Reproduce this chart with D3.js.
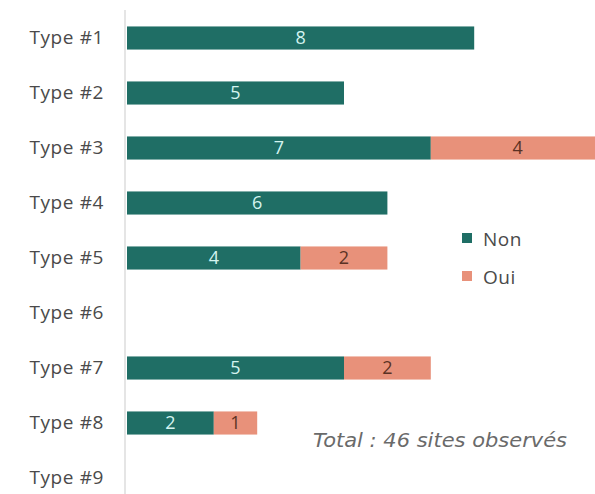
<!DOCTYPE html>
<html>
<head>
<meta charset="utf-8">
<script src="https://cdn.jsdelivr.net/npm/d3@7"></script>
<style>
  html, body { margin: 0; padding: 0; background: #fff; }
  svg { display: block; }
</style>
</head>
<body>
<svg id="chart" width="595" height="494"></svg>
<script>
// Site types and counts per answer
const categories = ["Type #1", "Type #2", "Type #3", "Type #4", "Type #5", "Type #6", "Type #7", "Type #8", "Type #9"];
const nonValues = [8, 5, 7, 6, 4, 0, 5, 2, 0];
const ouiValues = [0, 0, 4, 0, 2, 0, 2, 1, 0];
const seriesNames = ["Non", "Oui"];
const totalLabel = "Total : 46 sites observés";

const colors = { Non: "#1f6e65", Oui: "#e8917a" };
const labelColors = { Non: "#d4f4f0", Oui: "#5b3124" };
const font = "'Open Sans', sans-serif";

const svg = d3.select("#chart");
const H = 494;

const rows = categories.map((c, i) => ({ cat: c, Non: nonValues[i], Oui: ouiValues[i] }));
const stacked = d3.stack().keys(seriesNames)(rows);

const x = d3.scaleLinear().domain([0, 11]).range([127, 127 + 11 * 43.4]);
const y = d3.scaleBand().domain(categories).range([10.5, 505.5]).paddingInner(0.58).paddingOuter(0.29);

// Category axis line
svg.append("line")
  .attr("x1", 125).attr("x2", 125)
  .attr("y1", 10).attr("y2", H)
  .attr("stroke", "#dcdcdc").attr("stroke-width", 1.5);

// Category labels
const yAxis = d3.axisLeft(y).tickSize(0).tickPadding(0);
const gy = svg.append("g").attr("transform", "translate(104,0)").call(yAxis);
gy.select(".domain").remove();
gy.selectAll("text")
  .attr("font-family", font)
  .attr("font-size", 19)
  .attr("letter-spacing", 0.6)
  .attr("fill", "#4a4a4a");

// Bars
const layers = svg.append("g").selectAll("g")
  .data(stacked).join("g")
  .attr("fill", d => colors[d.key]);

layers.selectAll("rect")
  .data(d => d.map(v => ({ key: d.key, v, cat: v.data.cat })))
  .join("rect")
  .attr("x", d => x(d.v[0]))
  .attr("y", d => y(d.cat))
  .attr("width", d => x(d.v[1]) - x(d.v[0]))
  .attr("height", y.bandwidth());

// Value labels inside segments
layers.selectAll("text")
  .data(d => d.map(v => ({ key: d.key, v, cat: v.data.cat })).filter(d => d.v[1] - d.v[0] > 0))
  .join("text")
  .attr("x", d => (x(d.v[0]) + x(d.v[1])) / 2)
  .attr("y", d => y(d.cat) + y.bandwidth() / 2)
  .attr("dy", "0.36em")
  .attr("text-anchor", "middle")
  .attr("font-family", font)
  .attr("font-size", 18)
  .attr("fill", d => labelColors[d.key])
  .text(d => d.v[1] - d.v[0]);

// Legend
const legend = svg.append("g").attr("transform", "translate(462,238)");
seriesNames.forEach((name, i) => {
  const g = legend.append("g").attr("transform", `translate(0,${i * 38})`);
  g.append("rect").attr("x", 0).attr("y", -5).attr("width", 10).attr("height", 10).attr("fill", colors[name]);
  g.append("text")
    .attr("x", 21).attr("y", 1).attr("dy", "0.36em")
    .attr("font-family", font)
    .attr("font-size", 19)
    .attr("letter-spacing", 0.5)
    .attr("fill", "#4a4a4a")
    .text(name);
});

// Total note
svg.append("text")
  .attr("x", 313).attr("y", 440).attr("dy", "0.36em")
  .attr("font-family", "'DejaVu Sans', sans-serif")
  .attr("font-style", "oblique")
  .attr("font-size", 19)
  .attr("textLength", 254)
  .attr("lengthAdjust", "spacingAndGlyphs")
  .attr("fill", "#6a6a6a")
  .text(totalLabel);
</script>
</body>
</html>
